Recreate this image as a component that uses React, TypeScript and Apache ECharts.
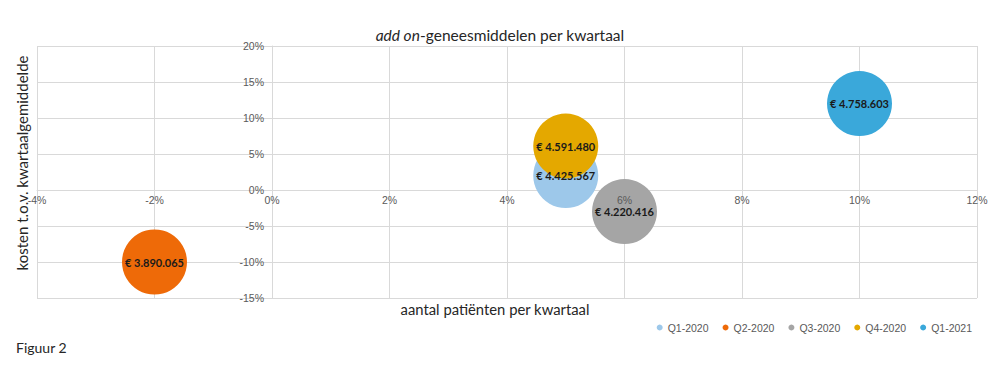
import React, { useEffect, useRef } from "react";
import * as echarts from "echarts";

const quarters = ["Q1-2020", "Q2-2020", "Q3-2020", "Q4-2020", "Q1-2021"];
const patientChange = [5, -2, 6, 5, 10];
const costChange = [2, -10, -3, 6.1, 12];
const costs = [4425567, 3890065, 4220416, 4591480, 4758603];
const colors = ["#9DC8EA", "#EE6A08", "#A5A5A5", "#E4A800", "#3AA8DA"];

const xMin = -4;
const xMax = 12;
const xStep = 2;
const yMin = -15;
const yMax = 20;
const yStep = 5;

const GRID = { left: 37, right: 23, top: 46, bottom: 73 };
const W = 1000;
const H = 371;

function euro(v: number): string {
  return "€ " + String(v).replace(/\B(?=(\d{3})+(?!\d))/g, ".");
}

export default function App() {
  const ref = useRef<HTMLDivElement>(null);
  useEffect(() => {
    if (!ref.current) return;
    const chart = echarts.init(ref.current, null, { renderer: "svg" });
    const plotW = W - GRID.left - GRID.right;
    const plotH = H - GRID.top - GRID.bottom;
    // place axes through the zero point
    const yAxisOffset = -((0 - xMin) / (xMax - xMin)) * plotW;
    const xAxisOffset = -((0 - yMin) / (yMax - yMin)) * plotH;
    const tickFont = {
      fontFamily: "Liberation Sans, Arial, sans-serif",
      fontSize: 10.5,
      color: "#595959",
    };
    const option: any = {
      animation: false,
      backgroundColor: "#ffffff",
      title: {
        text: "{i|add on}-geneesmiddelen per kwartaal",
        left: "center",
        top: 22,
        textStyle: {
          fontFamily: "Lato, sans-serif",
          fontSize: 15.5,
          fontWeight: "normal",
          color: "#262626",
          rich: {
            i: {
              fontFamily: "Lato, sans-serif",
              fontSize: 15.5,
              fontStyle: "italic",
              color: "#262626",
            },
          },
        },
      },
      grid: { ...GRID, containLabel: false },
      legend: {
        data: quarters,
        right: 23,
        top: 317,
        icon: "circle",
        itemWidth: 6,
        itemHeight: 6,
        itemGap: 14,
        textStyle: { ...tickFont, fontSize: 10.5 },
      },
      xAxis: [
        {
          type: "value",
          min: xMin,
          max: xMax,
          interval: xStep,
          position: "bottom",
          offset: xAxisOffset,
          axisLine: { show: true, onZero: false, lineStyle: { color: "#D9D9D9" } },
          axisTick: { show: false },
          axisLabel: { show: false },
          splitLine: { show: true, lineStyle: { color: "#D9D9D9" } },
        },
        {
          type: "value",
          min: xMin,
          max: xMax,
          interval: xStep,
          position: "bottom",
          offset: xAxisOffset,
          z: 10,
          axisLine: { show: false, onZero: false },
          axisTick: { show: false },
          splitLine: { show: false },
          axisLabel: {
            ...tickFont,
            margin: 4,
            showMinLabel: true,
            showMaxLabel: true,
            formatter: "{value}%",
          },
        },
      ],
      yAxis: {
        type: "value",
        min: yMin,
        max: yMax,
        interval: yStep,
        position: "left",
        offset: yAxisOffset,
        axisLine: { show: true, onZero: false, lineStyle: { color: "#D9D9D9" } },
        axisTick: { show: false },
        axisLabel: {
          ...tickFont,
          margin: 8,
          showMinLabel: true,
          showMaxLabel: true,
          formatter: "{value}%",
        },
        splitLine: { show: true, lineStyle: { color: "#D9D9D9" } },
      },
      graphic: [
        {
          type: "text",
          x: 22,
          y: 163,
          rotation: Math.PI / 2,
          style: {
            text: "kosten t.o.v. kwartaalgemiddelde",
            fontFamily: "Lato, sans-serif",
            fontSize: 15,
            fill: "#262626",
            textAlign: "center",
            textVerticalAlign: "middle",
          },
        },
        {
          type: "text",
          x: 495,
          y: 309,
          style: {
            text: "aantal patiënten per kwartaal",
            fontFamily: "Lato, sans-serif",
            fontSize: 14.8,
            fill: "#262626",
            textAlign: "center",
            textVerticalAlign: "middle",
          },
        },
        {
          type: "text",
          x: 16,
          y: 347,
          style: {
            text: "Figuur 2",
            fontFamily: "Lato, sans-serif",
            fontSize: 14,
            fill: "#262626",
            textAlign: "left",
            textVerticalAlign: "middle",
          },
        },
      ],
      series: quarters.map((q, i) => ({
        name: q,
        type: "scatter",
        xAxisIndex: 0,
        symbol: "circle",
        symbolSize: 65,
        itemStyle: { color: colors[i], opacity: 1 },
        label: {
          show: true,
          position: "inside",
          formatter: () => euro(costs[i]),
          fontFamily: "Lato, sans-serif",
          fontWeight: "bold",
          fontSize: 11,
          color: "#1a1a1a",
        },
        data: [[patientChange[i], costChange[i]]],
      })),
    };
    chart.setOption(option);
    return () => chart.dispose();
  }, []);
  return (
    <div
      ref={ref}
      style={{ position: "absolute", left: 0, top: 0, width: W, height: H }}
    />
  );
}
